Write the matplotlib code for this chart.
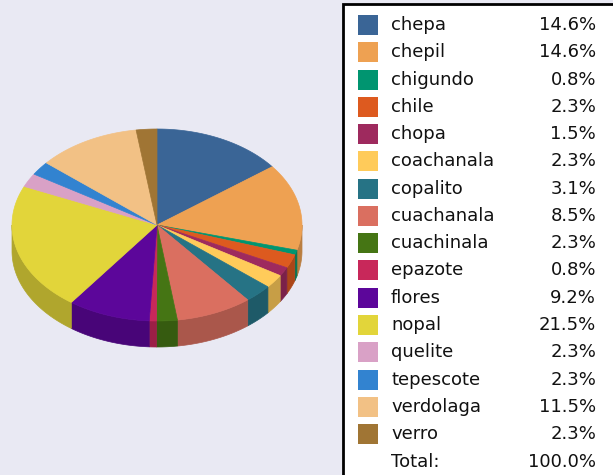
import numpy as np
import matplotlib.pyplot as plt
from matplotlib.patches import Polygon, Rectangle
from matplotlib.colors import to_rgb

# Datos del gráfico
etiquetas = ["chepa", "chepil", "chigundo", "chile", "chopa", "coachanala",
             "copalito", "cuachanala", "cuachinala", "epazote", "flores",
             "nopal", "quelite", "tepescote", "verdolaga", "verro"]
porcentajes = [14.6, 14.6, 0.8, 2.3, 1.5, 2.3, 3.1, 8.5, 2.3, 0.8, 9.2,
               21.5, 2.3, 2.3, 11.5, 2.3]
colores = ["#3a6596", "#eea152", "#009570", "#dd5a1f", "#9e2a5e", "#ffcb5a",
           "#267385", "#da6f60", "#457514", "#c8285a", "#5c069a", "#e2d53a",
           "#d9a1c6", "#3283d0", "#f2c185", "#a07534"]
total_txt = "100.0%"

fondo = "#e9e9f3"
fig = plt.figure(figsize=(6.13, 4.75), dpi=100, facecolor=fondo)
ax = fig.add_axes([0, 0, 1, 1])
ax.set_xlim(0, 613)
ax.set_ylim(475, 0)
ax.axis('off')

# Geometría del pastel 3D
cx, cy = 157, 225
a, b = 145, 96
prof = 26


def oscuro(c, f=0.78):
    return tuple(v * f for v in to_rgb(c))


fracs = np.array(porcentajes) / np.sum(porcentajes)
acum = np.concatenate([[0], np.cumsum(fracs)])
t_ini = 90 - acum[:-1] * 360
t_fin = 90 - acum[1:] * 360

# Paredes laterales (mitad frontal)
for t1, t2, col in zip(t_ini, t_fin, colores):
    lo, hi = max(t2, -180), min(t1, 0)
    if hi <= lo:
        continue
    t = np.radians(np.linspace(hi, lo, 60))
    xs = cx + a * np.cos(t)
    ys = cy - b * np.sin(t)
    pts = np.vstack([np.column_stack([xs, ys]),
                     np.column_stack([xs[::-1], ys[::-1] + prof])])
    ax.add_patch(Polygon(pts, closed=True, facecolor=oscuro(col),
                         edgecolor=oscuro(col), lw=0.5))

# Caras superiores
for t1, t2, col in zip(t_ini, t_fin, colores):
    t = np.radians(np.linspace(t1, t2, max(int(abs(t1 - t2)), 2) + 2))
    xs = cx + a * np.cos(t)
    ys = cy - b * np.sin(t)
    pts = np.vstack([[cx, cy], np.column_stack([xs, ys])])
    ax.add_patch(Polygon(pts, closed=True, facecolor=col, edgecolor=col, lw=0.5))

# Leyenda
ax.add_patch(Rectangle((343, 4), 300, 500, facecolor="white",
                       edgecolor="black", lw=2, clip_on=False))
paso = 27.27
for i, (lab, p, col) in enumerate(zip(etiquetas, porcentajes, colores)):
    y = 25 + i * paso
    ax.add_patch(Rectangle((358, y - 10), 20, 20, facecolor=col, edgecolor='none'))
    ax.text(391, y, lab, fontsize=13, va='center', ha='left', color='#111111')
    ax.text(596, y, f"{p:.1f}%", fontsize=13, va='center', ha='right', color='#111111')
y = 25 + len(etiquetas) * paso + 1
ax.text(391, y, "Total:", fontsize=13, va='center', ha='left', color='#111111')
ax.text(596, y, total_txt, fontsize=13, va='center', ha='right', color='#111111')

fig.savefig("out.png", dpi=100, facecolor=fondo)
